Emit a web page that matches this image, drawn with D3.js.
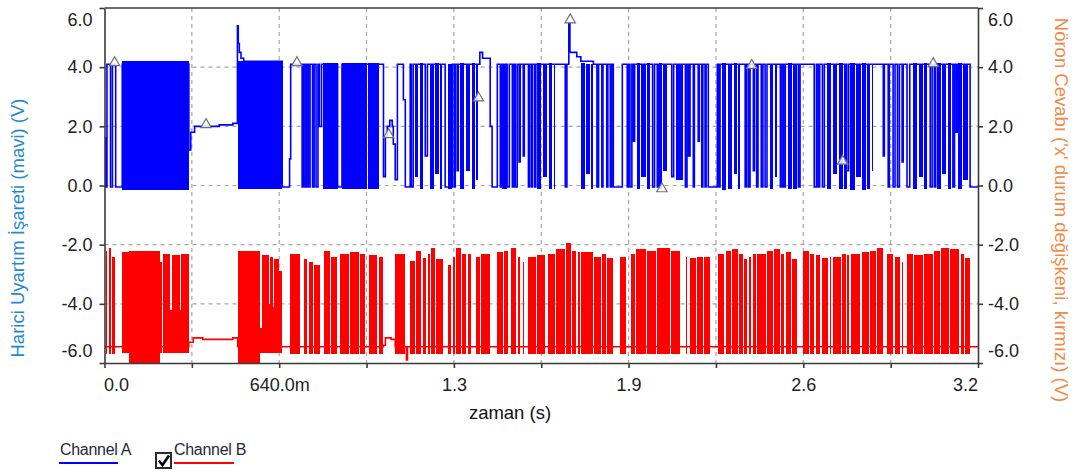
<!DOCTYPE html>
<html>
<head>
<meta charset="utf-8">
<script src="https://cdn.jsdelivr.net/npm/d3@7"></script>
<style>
  body { margin: 0; background: #fff; }
  svg { display: block; font-family: "Liberation Sans", Arial, sans-serif; }
</style>
</head>
<body>
<div id="chart"></div>
<script>
// times in ms, values in V
const xTickValues = [0, 320, 640, 960, 1280, 1600, 1920, 2240, 2560, 2880, 3200];
const xTickLabels = ["0.0", "", "640.0m", "", "1.3", "", "1.9", "", "2.6", "", "3.2"];
const yTickValues = [6, 4, 2, 0, -2, -4, -6];
const yGridValues = [4, 2, 0, -2, -4];

// channel A: step points [t, V] and dense bursts [t0, t1, low, high]
const blueSteps = [
  [0, 1.6], [4, -0.05], [9, 4.1], [22, -0.05], [29, 4.1], [41, -0.05], [65, 4.1],
  [309, 1.2], [316, 1.8], [330, 2.0], [420, 2.05], [470, 2.1], [487, 5.4], [490, 4.8],
  [494, 4.5], [500, 4.3], [510, 4.2], [651, -0.05], [678, 0.9], [682, 4.1], [724, -0.05],
  [729, 4.1], [735, -0.05], [741, 4.1], [747, -0.05], [753, 4.1], [762, -0.05], [768, 4.1],
  [775, -0.05], [782, 4.1], [787, 2.0], [795, 4.1], [854, -0.05], [870, 4.1], [1022, 0.3],
  [1029, 1.65], [1036, 2.0], [1045, 2.2], [1054, 2.0], [1058, 1.4], [1065, 0.2], [1073, 4.1],
  [1095, 2.9], [1102, -0.05], [1120, 4.1], [1124, -0.05], [1131, 4.1], [1175, 1.0], [1183, 4.1],
  [1248, -0.05], [1274, 4.1], [1281, -0.05], [1285, 4.1], [1292, 0.5], [1296, 4.1], [1375, 4.5],
  [1385, 4.3], [1413, 2.0], [1420, -0.05], [1439, 4.1], [1450, -0.05], [1454, 4.1], [1475, -0.05],
  [1483, 4.1], [1494, -0.05], [1500, 4.1], [1505, -0.05], [1512, 4.1], [1519, 0.8], [1523, 4.1],
  [1534, 1.0], [1538, 4.1], [1553, -0.05], [1556, 4.1], [1563, -0.05], [1567, 4.1], [1575, -0.05],
  [1580, 4.1], [1688, -0.05], [1694, 4.1], [1701, 5.5], [1705, 4.5], [1730, 4.35], [1745, 4.2],
  [1791, 4.1], [1804, -0.05], [1810, 4.1], [1822, -0.05], [1826, 4.1], [1840, -0.05], [1844, 4.1],
  [1853, -0.05], [1858, 4.1], [1864, -0.05], [1897, 4.1], [1915, -0.05], [1919, 4.1], [1925, -0.05],
  [1932, 4.1], [1938, 1.5], [1942, 4.1], [2008, -0.05], [2015, 4.1], [2025, -0.05], [2030, 4.1],
  [2078, 0.3], [2085, 4.1], [2128, -0.05], [2134, 4.1], [2140, 1.0], [2145, 4.1], [2157, -0.05],
  [2161, 4.1], [2175, 1.5], [2179, 4.1], [2188, -0.05], [2192, 4.1], [2200, -0.05], [2204, 4.1],
  [2212, -0.05], [2245, 4.1], [2250, -0.05], [2255, 4.1], [2347, -0.05], [2352, 4.1], [2359, -0.05],
  [2365, 4.1], [2377, 0.5], [2381, 4.1], [2389, -0.05], [2394, 4.1], [2406, -0.05], [2412, 4.1],
  [2420, -0.05], [2427, 4.1], [2476, -0.05], [2482, 4.1], [2488, -0.05], [2494, 4.1], [2542, -0.05],
  [2548, 4.1], [2600, -0.05], [2608, 4.1], [2614, -0.05], [2620, 4.1], [2630, -0.05], [2637, 4.1],
  [2719, 0.5], [2726, 4.1], [2853, 1.0], [2857, 4.1], [2871, -0.05], [2875, 4.1], [2889, -0.05],
  [2896, 4.1], [2905, -0.05], [2912, 4.1], [2922, 0.8], [2926, 4.1], [2940, -0.05], [2950, 4.1],
  [3025, -0.05], [3032, 4.1], [3040, -0.05], [3045, 4.1], [3108, -0.05], [3114, 4.1], [3120, 1.8],
  [3125, 4.1], [3171, -0.05], [3200, -0.05]
];
const blueBursts = [
  [65, 309, -0.15, 4.2], [488, 651, -0.12, 4.2], [801, 854, -0.12, 4.15], [870, 962, -0.12, 4.15],
  [966, 1004, -0.12, 4.15], [1139, 1150, 0.3, 4.1], [1155, 1168, -0.12, 4.15], [1194, 1206, -0.12, 4.1],
  [1211, 1224, 0.4, 4.15], [1229, 1237, -0.12, 4.1], [1259, 1274, -0.12, 4.1], [1303, 1318, -0.12, 4.15],
  [1323, 1340, 0.5, 4.1], [1345, 1356, -0.12, 4.15], [1361, 1369, 0.2, 4.1], [1456, 1475, -0.12, 4.1],
  [1584, 1600, -0.12, 4.15], [1605, 1622, 0.3, 4.1], [1627, 1640, -0.12, 4.15], [1645, 1651, -0.12, 4.1],
  [1745, 1760, -0.12, 4.15], [1765, 1778, 0.4, 4.1], [1783, 1791, -0.12, 4.1], [1950, 1962, -0.12, 4.15],
  [1967, 1982, 0.3, 4.1], [1988, 1999, -0.12, 4.15], [2030, 2042, -0.12, 4.15], [2047, 2060, 0.5, 4.1],
  [2092, 2120, 0.2, 4.1], [2262, 2278, -0.15, 4.15], [2283, 2300, -0.12, 4.1], [2305, 2316, 0.4, 4.15],
  [2321, 2328, -0.12, 4.1], [2438, 2450, -0.12, 4.1], [2455, 2463, 0.3, 4.1], [2504, 2518, -0.12, 4.15],
  [2523, 2537, -0.12, 4.1], [2646, 2662, -0.12, 4.15], [2667, 2684, 0.4, 4.1], [2689, 2704, -0.12, 4.15],
  [2709, 2719, -0.12, 4.1], [2731, 2748, -0.15, 4.15], [2753, 2770, 0.3, 4.1], [2775, 2790, -0.15, 4.15],
  [2795, 2806, -0.12, 4.1], [2811, 2817, 0.5, 4.1], [2963, 2978, -0.12, 4.15], [2983, 2998, 0.3, 4.1],
  [3003, 3012, -0.12, 4.15], [3049, 3064, -0.12, 4.15], [3069, 3084, 0.4, 4.1], [3089, 3100, -0.12, 4.15],
  [3125, 3140, -0.12, 4.15], [3145, 3165, 0.2, 4.1]
];

// channel B
const redSteps = [
  [0, -5.45], [309, -5.3], [325, -5.15], [360, -5.2], [470, -5.15], [488, -5.45], [1022, -5.4],
  [1029, -5.15], [1050, -5.2], [1065, -5.45], [1106, -5.9], [1110, -5.45], [3200, -5.45]
];
const redBursts = [
  [4, 8, -5.7, -2.2], [18, 25, -5.7, -2.1], [28, 40, -5.7, -2.4], [65, 88, -5.65, -2.25],
  [88, 205, -6.0, -2.22], [205, 211, -5.65, -2.6], [214, 240, -5.65, -2.3], [240, 246, -5.65, -4.2],
  [246, 275, -5.65, -2.35], [275, 281, -5.65, -4.2], [281, 309, -5.65, -2.3], [488, 571, -6.0, -2.2],
  [571, 577, -5.65, -4.8], [577, 601, -5.65, -2.35], [601, 608, -5.65, -4.0], [608, 617, -5.65, -2.4],
  [617, 622, -5.65, -4.1], [622, 640, -5.65, -2.5], [640, 651, -5.65, -2.9], [681, 718, -5.7, -2.3],
  [730, 742, -5.7, -2.5], [748, 764, -5.7, -2.6], [768, 791, -5.7, -2.7], [803, 825, -5.7, -2.2],
  [829, 852, -5.7, -2.4], [864, 895, -5.7, -2.3], [899, 931, -5.7, -2.25], [937, 956, -5.7, -2.3],
  [968, 1000, -5.7, -2.35], [1004, 1022, -5.7, -2.4], [1065, 1102, -5.7, -2.3], [1120, 1137, -5.7, -2.55],
  [1142, 1161, -5.7, -2.2], [1166, 1179, -5.7, -2.45], [1184, 1192, -5.7, -2.3], [1197, 1210, -5.7, -2.1],
  [1215, 1241, -5.7, -2.5], [1259, 1271, -5.7, -2.7], [1275, 1283, -5.7, -2.4], [1287, 1305, -5.7, -2.1],
  [1309, 1326, -5.7, -2.3], [1330, 1344, -5.7, -2.3], [1360, 1375, -5.7, -2.4], [1379, 1413, -5.7, -2.3],
  [1439, 1460, -5.7, -2.25], [1464, 1478, -5.7, -2.2], [1491, 1509, -5.7, -2.1], [1513, 1523, -5.7, -2.4],
  [1534, 1538, -5.7, -2.6], [1552, 1580, -5.7, -2.4], [1584, 1615, -5.7, -2.35], [1626, 1649, -5.7, -2.3],
  [1653, 1686, -5.7, -2.15], [1690, 1710, -5.7, -1.95], [1714, 1729, -5.7, -2.2], [1733, 1743, -5.7, -2.25],
  [1745, 1789, -5.7, -2.25], [1793, 1820, -5.7, -2.4], [1824, 1838, -5.7, -2.3], [1842, 1864, -5.7, -2.45],
  [1889, 1911, -5.7, -2.4], [1928, 1942, -5.7, -2.3], [1946, 1985, -5.7, -2.15], [1989, 2021, -5.7, -2.2],
  [2025, 2070, -5.7, -2.1], [2074, 2109, -5.7, -2.2], [2131, 2135, -5.7, -2.4], [2145, 2168, -5.7, -2.45],
  [2172, 2192, -5.7, -2.4], [2196, 2219, -5.7, -2.4], [2248, 2271, -5.7, -2.3], [2275, 2296, -5.7, -2.2],
  [2300, 2320, -5.7, -2.15], [2324, 2338, -5.7, -2.3], [2342, 2354, -5.7, -2.5], [2360, 2368, -5.7, -2.4],
  [2375, 2385, -5.7, -2.3], [2392, 2424, -5.7, -2.3], [2428, 2448, -5.7, -2.2], [2452, 2473, -5.7, -2.15],
  [2477, 2491, -5.7, -2.3], [2495, 2516, -5.7, -2.25], [2520, 2537, -5.7, -2.5], [2559, 2580, -5.7, -2.2],
  [2584, 2601, -5.7, -2.3], [2605, 2621, -5.7, -2.35], [2627, 2651, -5.7, -2.45], [2658, 2663, -5.7, -2.4],
  [2669, 2699, -5.7, -2.4], [2703, 2717, -5.7, -2.3], [2721, 2729, -5.7, -2.35], [2733, 2766, -5.7, -2.3],
  [2776, 2802, -5.7, -2.25], [2806, 2827, -5.7, -2.2], [2831, 2851, -5.7, -2.1], [2867, 2889, -5.7, -2.3],
  [2896, 2914, -5.7, -2.4], [2922, 2926, -5.7, -2.6], [2939, 2963, -5.7, -2.3], [2967, 2998, -5.7, -2.35],
  [3002, 3036, -5.7, -2.3], [3040, 3059, -5.7, -2.2], [3063, 3095, -5.7, -2.1], [3099, 3132, -5.7, -2.15],
  [3136, 3150, -5.7, -2.3], [3154, 3171, -5.7, -2.45]
];

// triangle markers sitting on channel A
const markers = [
  [37, 4.15], [372, 2.06], [705, 4.15], [1041, 1.72], [1370, 2.96],
  [1706, 5.6], [2042, -0.11], [2371, 4.06], [2704, 0.82], [3036, 4.12]
];

const width = 1079, height = 473;
const x = d3.scaleLinear().domain([0, 3200]).range([104.5, 978]);
const y = d3.scaleLinear().domain([-6, 6]).range([363, 8]);
const axisColor = '#3a3a3a';

const svg = d3.select('#chart').append('svg')
    .attr('width', width)
    .attr('height', height);

svg.append('clipPath').attr('id', 'plot')
    .append('rect')
    .attr('x', x(0)).attr('y', y(6))
    .attr('width', x(3200) - x(0)).attr('height', y(-6) - y(6));

// grid
const grid = svg.append('g')
    .attr('stroke', '#a6a6a6')
    .attr('stroke-width', 1.2)
    .attr('stroke-dasharray', '4,4');
grid.selectAll('.gx').data(xTickValues.slice(1, -1)).enter().append('line')
    .attr('x1', d => x(d)).attr('x2', d => x(d))
    .attr('y1', y(6)).attr('y2', y(-6));
grid.selectAll('.gy').data(yGridValues).enter().append('line')
    .attr('x1', x(0)).attr('x2', x(3200))
    .attr('y1', d => y(d)).attr('y2', d => y(d));

const line = d3.line()
    .x(d => x(d[0]))
    .y(d => y(d[1]))
    .curve(d3.curveStepAfter);

function drawChannel(steps, bursts, color) {
    const g = svg.append('g').attr('clip-path', 'url(#plot)');
    g.selectAll('rect').data(bursts).enter().append('rect')
        .attr('x', d => x(d[0]))
        .attr('width', d => Math.max(1, x(d[1]) - x(d[0])))
        .attr('y', d => y(d[3]))
        .attr('height', d => y(d[2]) - y(d[3]))
        .attr('fill', color)
        .attr('shape-rendering', 'crispEdges');
    g.append('path')
        .datum(steps)
        .attr('fill', 'none')
        .attr('stroke', color)
        .attr('stroke-width', 1.6)
        .attr('d', line);
}
drawChannel(redSteps, redBursts, '#ff0000');
drawChannel(blueSteps, blueBursts, '#0000ff');

svg.append('g').selectAll('path').data(markers).enter().append('path')
    .attr('transform', d => `translate(${x(d[0])},${y(d[1])})`)
    .attr('d', d3.symbol(d3.symbolTriangle, 46))
    .attr('fill', '#ffffff')
    .attr('fill-opacity', 0.85)
    .attr('stroke', '#707070')
    .attr('stroke-width', 1.2);

// axes
function styleAxis(g) {
    g.selectAll('path, line').attr('stroke', axisColor).attr('stroke-width', 1.6);
    g.selectAll('text').attr('fill', '#222').style('font-size', '18px');
}
const fmt = d => d.toFixed(1);

const left = svg.append('g')
    .attr('transform', `translate(${x(0)},0)`)
    .call(d3.axisLeft(y).tickValues(yTickValues).tickFormat(fmt).tickSize(5).tickSizeOuter(0).tickPadding(7))
    .call(styleAxis);
const right = svg.append('g')
    .attr('transform', `translate(${x(3200)},0)`)
    .call(d3.axisRight(y).tickValues(yTickValues).tickFormat(fmt).tickSize(5).tickSizeOuter(0).tickPadding(5))
    .call(styleAxis);
[left, right].forEach(g => {
    g.selectAll('.tick text')
        .attr('y', d => d === 6 ? 12 : d === -6 ? -12 : 0);
});

const bottom = svg.append('g')
    .attr('transform', `translate(0,${y(-6)})`)
    .call(d3.axisBottom(x).tickValues(xTickValues).tickFormat((d, i) => xTickLabels[i]).tickSize(5).tickSizeOuter(0).tickPadding(10))
    .call(styleAxis);
bottom.selectAll('.tick text')
    .attr('x', d => d === 0 ? 11.5 : d === 3200 ? -13 : 0);

svg.append('line')
    .attr('x1', x(0)).attr('x2', x(3200))
    .attr('y1', y(6)).attr('y2', y(6))
    .attr('stroke', axisColor).attr('stroke-width', 1.6);

// titles
svg.append('text')
    .attr('x', 510).attr('y', 419)
    .attr('text-anchor', 'middle')
    .attr('fill', '#111')
    .style('font-size', '18.5px')
    .text('zaman (s)');

svg.append('text')
    .attr('transform', 'translate(17,228) rotate(-90)')
    .attr('text-anchor', 'middle')
    .attr('dominant-baseline', 'central')
    .attr('fill', '#1f8ad2')
    .style('font-size', '18.5px')
    .text('Harici Uyartım İşareti (mavi) (V)');

svg.append('text')
    .attr('transform', 'translate(1061,210) rotate(90)')
    .attr('text-anchor', 'middle')
    .attr('dominant-baseline', 'central')
    .attr('fill', '#ef8a46')
    .style('font-size', '18.5px')
    .text("Nöron Cevabı ('x' durum değişkeni, kırmızı) (V)");

// legend
const legend = svg.append('g').style('font-size', '16px').attr('fill', '#1e2a38');
legend.append('text').attr('x', 60).attr('y', 455).attr('letter-spacing', '-0.3').text('Channel A');
legend.append('line').attr('x1', 59).attr('x2', 118).attr('y1', 463).attr('y2', 463)
    .attr('stroke', '#0000ff').attr('stroke-width', 2);
legend.append('rect').attr('x', 156).attr('y', 453).attr('width', 15).attr('height', 15)
    .attr('fill', '#fff').attr('stroke', '#2a2a2a').attr('stroke-width', 2);
legend.append('path').attr('d', 'M158.8,460.5 L162.5,465 L169,455.5')
    .attr('fill', 'none').attr('stroke', '#000').attr('stroke-width', 2.6);
legend.append('text').attr('x', 174).attr('y', 455).attr('letter-spacing', '-0.3').text('Channel B');
legend.append('line').attr('x1', 174).attr('x2', 234).attr('y1', 463).attr('y2', 463)
    .attr('stroke', '#ff0000').attr('stroke-width', 2);
</script>
</body>
</html>
